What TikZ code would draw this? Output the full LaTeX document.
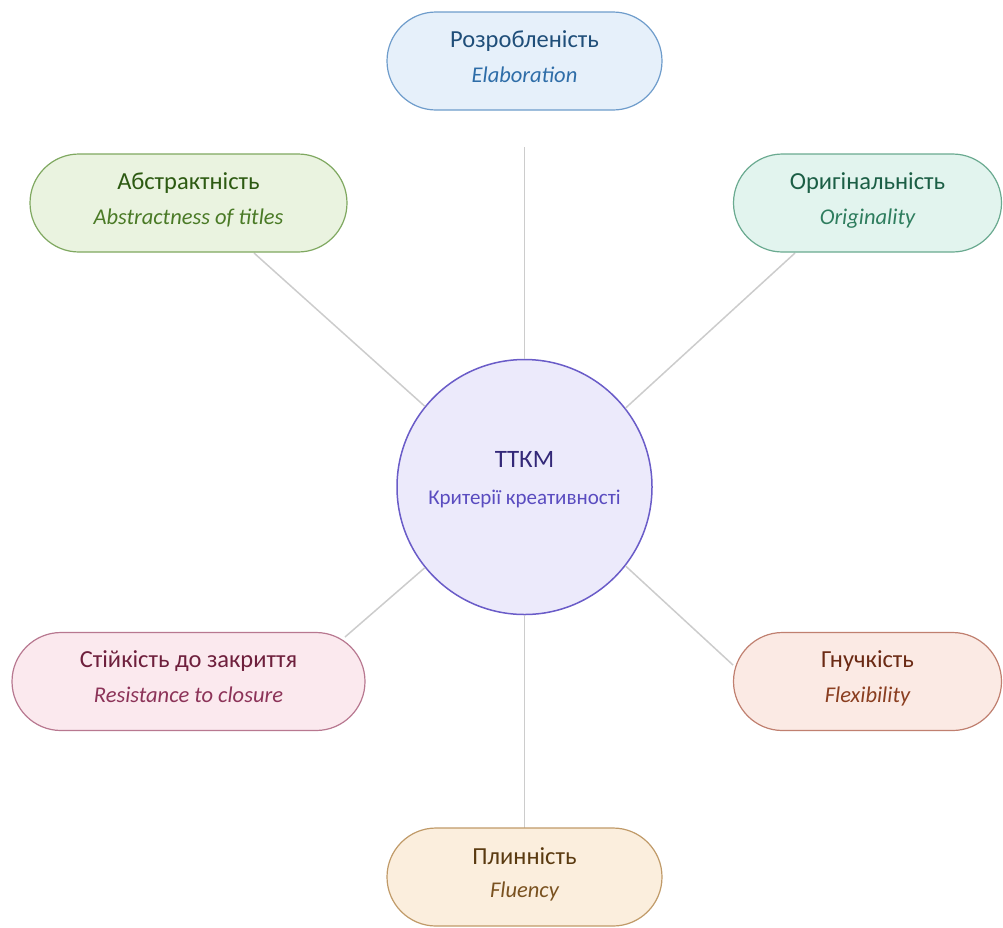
\documentclass[tikz,border=0pt]{standalone}
\usepackage{fontspec}
\setmainfont{Carlito}
\definecolor{linec}{HTML}{CCCCCC}
\definecolor{bF}{HTML}{E6F0FA}\definecolor{bD}{HTML}{6E9CCB}\definecolor{bT}{HTML}{1F4E79}\definecolor{bS}{HTML}{2E6DA8}
\definecolor{gF}{HTML}{EAF3E0}\definecolor{gD}{HTML}{7FA860}\definecolor{gT}{HTML}{2D5A12}\definecolor{gS}{HTML}{4A7A26}
\definecolor{tF}{HTML}{E2F4EE}\definecolor{tD}{HTML}{6AAA90}\definecolor{tT}{HTML}{1B5E45}\definecolor{tS}{HTML}{2E7D5E}
\definecolor{pF}{HTML}{FBE9EE}\definecolor{pD}{HTML}{B87890}\definecolor{pT}{HTML}{6E1F3C}\definecolor{pS}{HTML}{8C3358}
\definecolor{rF}{HTML}{FBEAE4}\definecolor{rD}{HTML}{C08070}\definecolor{rT}{HTML}{6B2A14}\definecolor{rS}{HTML}{8A3E20}
\definecolor{oF}{HTML}{FBEEDD}\definecolor{oD}{HTML}{C09A68}\definecolor{oT}{HTML}{5A3A10}\definecolor{oS}{HTML}{7A5220}
\definecolor{cF}{HTML}{ECEAFB}\definecolor{cD}{HTML}{6A5CC8}\definecolor{cT}{HTML}{332878}\definecolor{cS}{HTML}{5A4CC0}
\tikzset{
  pill/.style={rectangle, rounded corners=49pt, minimum height=98pt, line width=1.2pt, inner sep=0pt},
  ttl/.style={anchor=base, inner sep=0pt, font=\fontsize{24.5}{28}\selectfont},
  sub/.style={anchor=base, inner sep=0pt, font=\fontsize{22.5}{26}\selectfont\itshape},
  conn/.style={draw=linec, line width=1.5pt},
}
\begin{document}
\begin{tikzpicture}[x=1pt,y=-1pt]
\useasboundingbox (0,0) rectangle (1003,927);
\coordinate (eT) at (524.5,147);
\coordinate (eUL) at (254,253);
\coordinate (eUR) at (795,253);
\coordinate (eLL) at (345,637);
\coordinate (eLR) at (733,665);
\coordinate (eB) at (524.5,828);
\node[circle, minimum size=255pt, inner sep=0pt, fill=cF, draw=cD, line width=1.5pt] (c) at (524.5,487) {};
\draw[conn] (c.90) -- (eT);
\draw[conn] (c.141.6) -- (eUL);
\draw[conn] (c.38.4) -- (eUR);
\draw[conn] (c.219.4) -- (eLL);
\draw[conn] (c.-38.7) -- (eLR);
\draw[conn] (c.270) -- (eB);
\node[ttl, text=cT, font=\fontsize{25}{29}\selectfont] (cA) at (524.5,467) {ТТКМ};
\node[ttl, text=cS, font=\fontsize{21}{25}\selectfont] (cB) at (524.5,504) {Критерії креативності};
\node[pill, minimum width=275pt, fill=bF, draw=bD] (elab) at (524.5,61) {};
\node[ttl, text=bT] (elabA) at (524.5,47) {Розробленість};
\node[sub, text=bS] (elabB) at (524.5,82) {Elaboration};
\node[pill, minimum width=317pt, fill=gF, draw=gD] (abs) at (188.5,203) {};
\node[ttl, text=gT] (absA) at (188.5,189) {Абстрактність};
\node[sub, text=gS] (absB) at (188.5,224) {Abstractness of titles};
\node[pill, minimum width=268pt, fill=tF, draw=tD] (orig) at (867.5,203) {};
\node[ttl, text=tT] (origA) at (867.5,189) {Оригінальність};
\node[sub, text=tS] (origB) at (867.5,224) {Originality};
\node[pill, minimum width=353pt, fill=pF, draw=pD] (res) at (188.5,681.5) {};
\node[ttl, text=pT] (resA) at (188.5,667.5) {Стійкість до закриття};
\node[sub, text=pS] (resB) at (188.5,702.5) {Resistance to closure};
\node[pill, minimum width=268pt, fill=rF, draw=rD] (flex) at (867.5,681.5) {};
\node[ttl, text=rT] (flexA) at (867.5,667.5) {Гнучкість};
\node[sub, text=rS] (flexB) at (867.5,702.5) {Flexibility};
\node[pill, minimum width=275pt, fill=oF, draw=oD] (flu) at (524.5,877) {};
\node[ttl, text=oT] (fluA) at (524.5,864) {Плинність};
\node[sub, text=oS] (fluB) at (524.5,897) {Fluency};
\end{tikzpicture}
\end{document}
